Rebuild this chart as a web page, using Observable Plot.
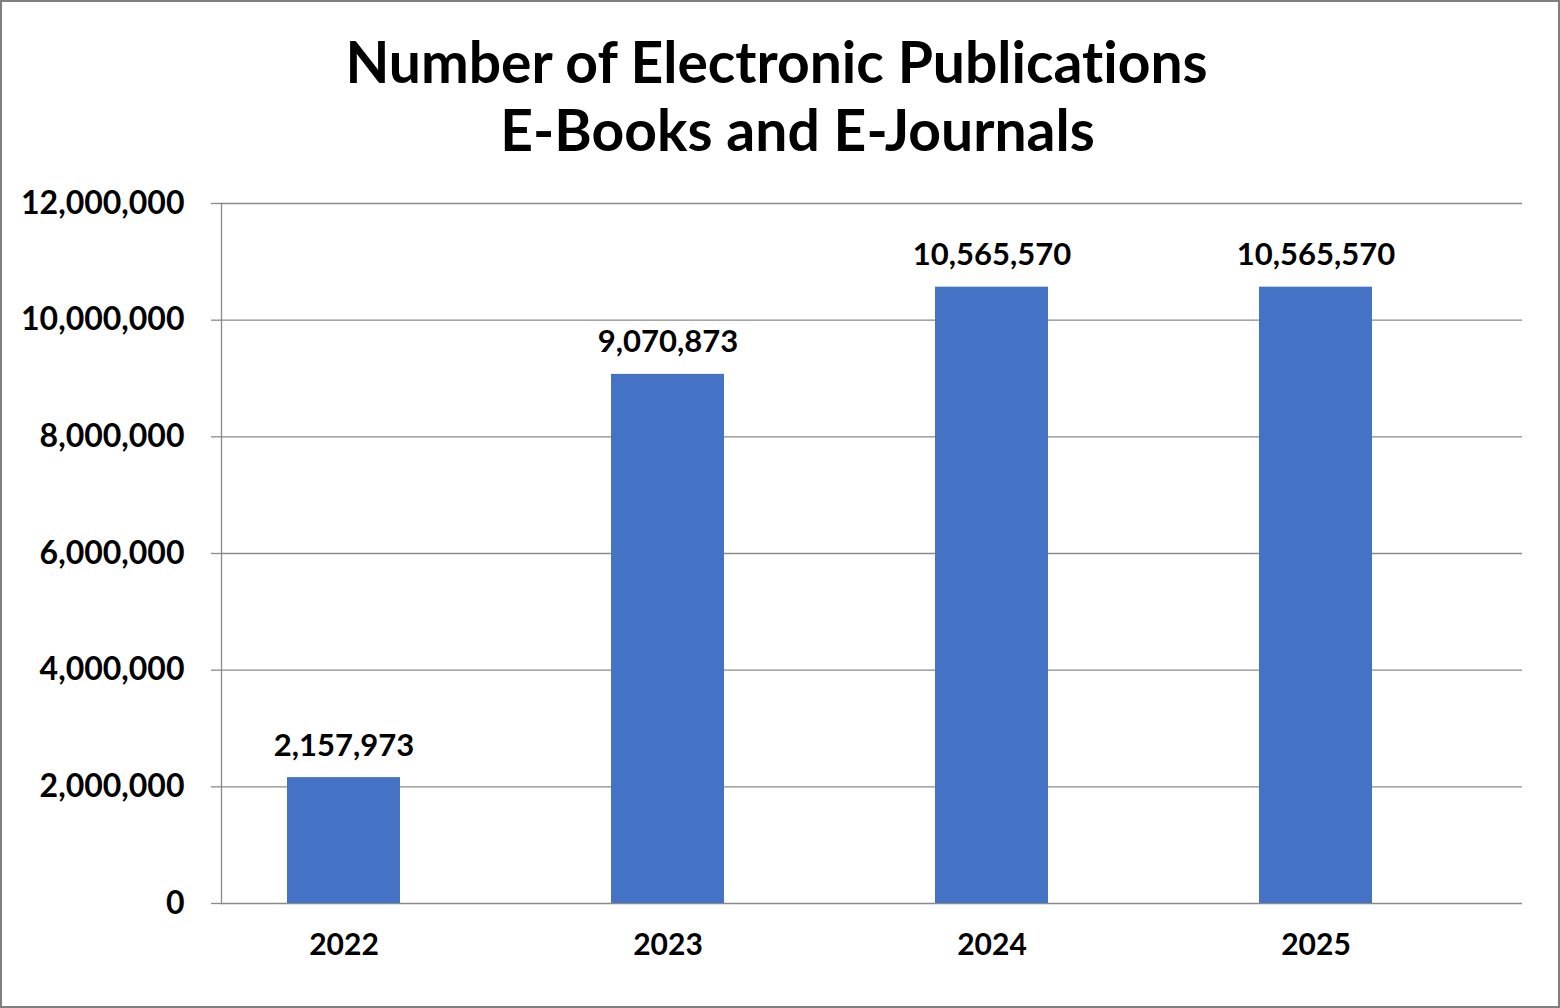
<!DOCTYPE html>
<html>
<head>
<meta charset="utf-8">
<script src="https://cdn.jsdelivr.net/npm/d3@7"></script>
<script src="https://cdn.jsdelivr.net/npm/@observablehq/plot@0.6"></script>
<style>
  html, body { margin: 0; padding: 0; background: #fff; }
  #wrap { position: relative; width: 1560px; height: 1008px; overflow: hidden; font-family: Lato, "Open Sans", sans-serif; font-variant-ligatures: none; }
  #title { position: absolute; left: 0; top: 27px; width: 1553px; text-align: center; font-weight: 700; font-size: 57px; line-height: 68px; color: #000; font-variant-ligatures: none; }
  #title div.l2 { padding-left: 42px; }
  #border { position: absolute; left: 0; top: 0; width: 1560px; height: 1008px; box-sizing: border-box; border: 2px solid #7f7f7f; pointer-events: none; }
  #chart { position: absolute; left: 0; top: 0; }
</style>
</head>
<body>
<div id="wrap">
  <div id="chart"></div>
  <div id="title"><div>Number of Electronic Publications</div><div class="l2">E-Books and E-Journals</div></div>
  <div id="border"></div>
</div>
<script>
const years = ["2022", "2023", "2024", "2025"];
const counts = [2157973, 9070873, 10565570, 10565570];
const yTicks = [0, 2000000, 4000000, 6000000, 8000000, 10000000, 12000000];

const data = years.map((year, i) => ({year, count: counts[i]}));
const fmt = d3.format(",");

const chart = Plot.plot({
  width: 1560,
  height: 1008,
  marginTop: 203,
  marginBottom: 105,
  marginLeft: 221,
  marginRight: 38,
  style: {fontFamily: "Lato, 'Open Sans', sans-serif", fontWeight: 700, color: "#000", background: "transparent", fontVariantLigatures: "none"},
  x: {domain: years, range: [182, 1478], paddingInner: 0.65, paddingOuter: 0.325, label: null},
  y: {domain: [0, 12000000], label: null},
  marks: [
    Plot.gridY(yTicks, {stroke: "#8a8a8a", strokeOpacity: 1, strokeWidth: 1.3}),
    Plot.barY(data, {x: "year", y: "count", fill: "#4472C4"}),
    Plot.axisY(yTicks, {tickFormat: fmt, tickSize: 10, tickPadding: 27, fontSize: 32, stroke: "#8a8a8a", strokeWidth: 1.3, label: null}),
    Plot.frame({anchor: "left", stroke: "#8a8a8a", strokeWidth: 1.3}),
    Plot.axisX({tickSize: 0, tickPadding: 30, fontSize: 30, label: null}),
    Plot.text(data, {x: "year", y: "count", text: d => fmt(d.count), dy: -22, lineAnchor: "bottom", fontSize: 31, fontWeight: 700, fill: "#000"})
  ]
});
document.getElementById("chart").appendChild(chart);
</script>
</body>
</html>
